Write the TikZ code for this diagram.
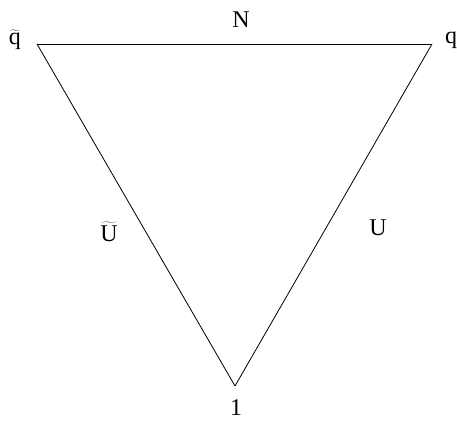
\documentclass[tikz,border=0pt]{standalone}
\usepackage{fontspec}
\setmainfont{Liberation Serif}
\usetikzlibrary{positioning}

\begin{document}
\begin{tikzpicture}[x=1pt, y=-1pt, semithick, line width=0.8pt, font=\fontsize{24}{28}\selectfont]
    \useasboundingbox (0,0) rectangle (457,423);
    \coordinate (A) at (37,44);
    \coordinate (B) at (432,44);
    \coordinate (C) at (235,386);
    \node (qt) at (15,40) {$\widetilde{\mbox{q}}$};
    \node (q) at (451,40) {q};
    \node (N) at (241,20) {N};
    \node (Ut) at (109,232) {$\widetilde{\mbox{U}}$};
    \node (U) at (378,228) {U};
    \node (l) at (236,408) {1};
    \draw (A) -- (B); \draw (B) -- (C); \draw (C) -- (A);
  \end{tikzpicture}
\end{document}
